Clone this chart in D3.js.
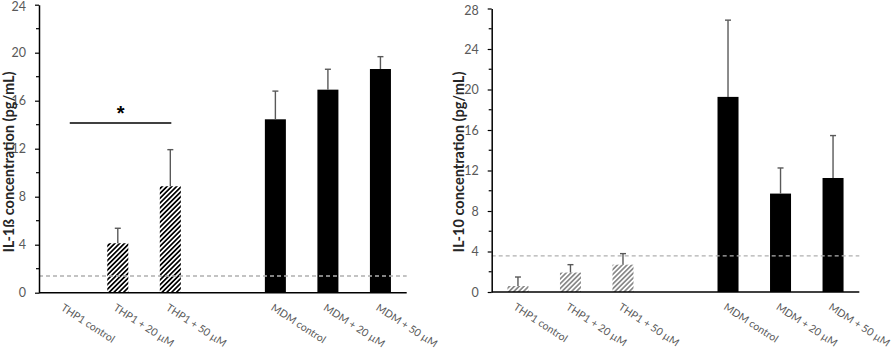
<!DOCTYPE html>
<html><head><meta charset="utf-8">
<script src="https://cdn.jsdelivr.net/npm/d3@7"></script>
<style>
html,body{margin:0;padding:0;background:#fff;}
svg{display:block;}
</style></head>
<body>
<svg id="chart" width="892" height="349"></svg>
<script>
// ---- data ----
const categories = ["THP1 control","THP1 + 20 µM","THP1 + 50 µM","","MDM control","MDM + 20 µM","MDM + 50 µM"];
const cellType   = ["THP1","THP1","THP1",null,"MDM","MDM","MDM"];
const il1bValues = [0, 4.12, 8.87, null, 14.45, 16.92, 18.64];
const il1bErrors = [0, 1.25, 3.05, null, 2.35, 1.70, 1.03];
const il1bTicks  = [0,4,8,12,16,20,24];
const il1bLimit  = 1.39;
const il10Values = [0.59, 1.92, 2.70, null, 19.27, 9.72, 11.26];
const il10Errors = [0.89, 0.78, 1.09, null, 7.58, 2.53, 4.19];
const il10Ticks  = [0,4,8,12,16,20,24,28];
const il10Limit  = 3.56;
const sigPair    = ["THP1 control","THP1 + 50 µM"];
const sigValue   = 14.14;
const sigLabel   = "*";

const svg = d3.select("#chart");
const defs = svg.append("defs");
function hatch(id, color, sw){
  const p = defs.append("pattern").attr("id",id).attr("patternUnits","userSpaceOnUse")
    .attr("width",3.4).attr("height",3.4).attr("patternTransform","rotate(45)");
  p.append("rect").attr("width",3.4).attr("height",3.4).attr("fill","#fff");
  p.append("line").attr("x1",1.7).attr("x2",1.7).attr("y1",0).attr("y2",3.4)
    .attr("stroke",color).attr("stroke-width",sw);
}
hatch("hatchBlack","#000",1.7);
hatch("hatchGray","#7a7a7a",1.5);

const tickFont = "Lato, 'Open Sans', sans-serif";

function drawChart(o){
  const g = svg.append("g");
  const x = d3.scaleBand().domain(d3.range(categories.length)).range([o.x0,o.x1]).paddingInner(0.6).paddingOuter(0.3);
  const y = d3.scaleLinear().domain([0,o.max]).range([o.y0,o.y1]);
  const cx = i => x(i)+x.bandwidth()/2;

  // bars
  const idx = d3.range(categories.length).filter(i=>o.values[i]!=null && o.values[i]>0);
  g.selectAll("rect.bar").data(idx).join("rect")
    .attr("x",i=>x(i)).attr("width",x.bandwidth())
    .attr("y",i=>y(o.values[i])).attr("height",i=>y(0)-y(o.values[i]))
    .attr("fill",i=>cellType[i]==="MDM"?"#000":`url(#${o.hatch})`);

  // error bars (upper only)
  const eg = g.append("g").attr("stroke","#595959").attr("stroke-width",1.4);
  idx.forEach(i=>{
    const top = y(o.values[i]+o.errors[i]);
    eg.append("line").attr("x1",cx(i)).attr("x2",cx(i)).attr("y1",y(o.values[i])).attr("y2",top);
    eg.append("line").attr("x1",cx(i)-3).attr("x2",cx(i)+3).attr("y1",top).attr("y2",top);
  });

  // detection limit dashed line
  g.append("line").attr("x1",o.x0).attr("x2",o.x1).attr("y1",y(o.limit)).attr("y2",y(o.limit))
    .attr("stroke","#b0b0b0").attr("stroke-width",1.3).attr("stroke-dasharray","4,3");

  // y axis
  const ya = g.append("g").attr("transform",`translate(${o.x0},0)`)
    .call(d3.axisLeft(y).tickValues(o.ticks).tickSize(4).tickPadding(9).tickSizeOuter(0));
  ya.select(".domain").attr("stroke","#000").attr("stroke-width",1.5);
  ya.selectAll(".tick line").attr("stroke","#000").attr("stroke-width",1.2);
  ya.selectAll(".tick text").attr("fill","#595959").style("font-family",tickFont).style("font-size","12.5px")
    .attr("dy",d=>d===o.max?"0.45em":"0.32em");
  const minor = d3.range(2,o.max,4);
  g.append("g").selectAll("line").data(minor).join("line")
    .attr("x1",o.x0-3).attr("x2",o.x0).attr("y1",d=>y(d)).attr("y2",d=>y(d))
    .attr("stroke","#000").attr("stroke-width",1.2);

  // x axis line
  g.append("line").attr("x1",o.x0).attr("x2",o.x1).attr("y1",y(0)).attr("y2",y(0))
    .attr("stroke","#000").attr("stroke-width",1.5);

  // x labels
  g.selectAll("text.xl").data(d3.range(categories.length).filter(i=>categories[i])).join("text")
    .attr("transform",i=>`translate(${cx(i)-1},${o.y0+10.5})rotate(33)`)
    .attr("dy","0.72em")
    .attr("fill","#595959").style("font-family",tickFont).style("font-size","10.5px")
    .text(i=>categories[i]);

  // y title
  g.append("text").attr("transform",`translate(${o.titleX},${o.titleY}) rotate(-90)`)
    .attr("text-anchor","middle").attr("dy","0.36em")
    .attr("fill","#262626").style("font-family","Lato, sans-serif").style("font-weight","bold").style("font-size","14.6px")
    .text(o.title);

  if(o.sig){
    const i0 = categories.indexOf(sigPair[0]), i1 = categories.indexOf(sigPair[1]);
    const xa = cx(i0)+4.5, xb = cx(i1)+1;
    g.append("line").attr("x1",xa).attr("x2",xb).attr("y1",y(sigValue)).attr("y2",y(sigValue))
      .attr("stroke","#000").attr("stroke-width",1.5);
    g.append("text").attr("x",(xa+xb)/2).attr("y",y(sigValue)-3)
      .attr("text-anchor","middle").style("font-family","'Liberation Sans', Arial, sans-serif").style("font-weight","bold").style("font-size","20px")
      .text(sigLabel);
  }
}

drawChart({x0:39,x1:406.7,y0:292.7,y1:4.7,max:24,values:il1bValues,errors:il1bErrors,ticks:il1bTicks,limit:il1bLimit,
  hatch:"hatchBlack",title:"IL-1ß concentration (pg/mL)",titleX:9,titleY:162,sig:true});
drawChart({x0:491.7,x1:859.3,y0:292,y1:8.5,max:28,values:il10Values,errors:il10Errors,ticks:il10Ticks,limit:il10Limit,
  hatch:"hatchGray",title:"IL-10 concentration (pg/mL)",titleX:459,titleY:162,sig:false});
</script>
</body></html>
